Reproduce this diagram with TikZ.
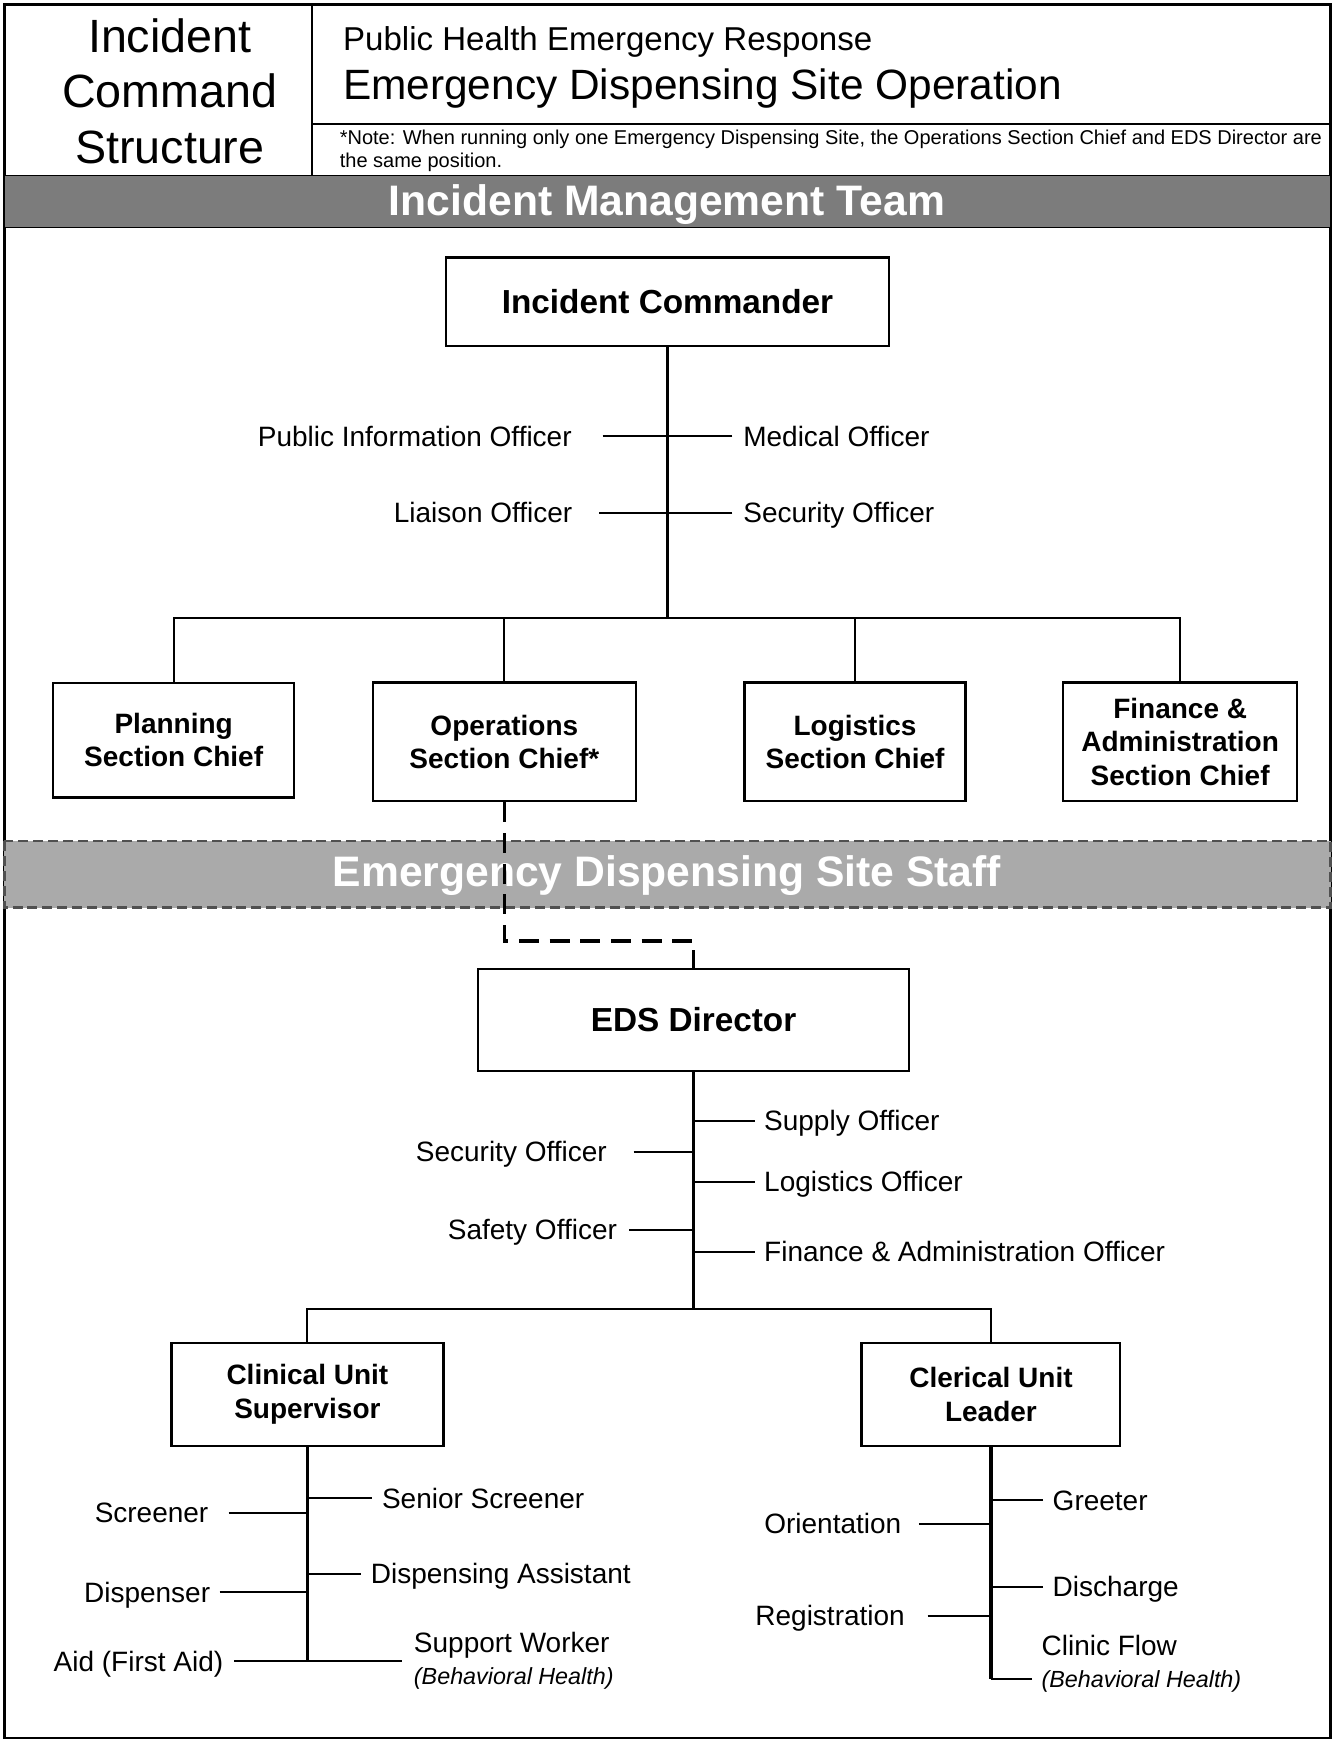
\documentclass[tikz,border=0pt]{standalone}
\usepackage{fontspec}
\setmainfont{Liberation Sans}

\definecolor{bandgray}{RGB}{124,124,124}
\definecolor{staffgray}{RGB}{170,170,170}
\definecolor{edgegray}{RGB}{80,80,80}

\tikzset{
  box/.style 2 args={draw, line width=1.8pt, align=center, inner sep=0pt,
    font=\fontsize{21}{25}\selectfont\bfseries, minimum width=#1, minimum height=#2},
  lbl/.style={font=\fontsize{21}{24}\selectfont, inner ysep=0pt, align=left,
    text height=15pt, text depth=0pt},
  lblL/.style={lbl, anchor=east, inner xsep=#1},
  lblR/.style={lbl, anchor=west, inner xsep=#1},
  sub/.style={font=\fontsize{17.5}{21}\selectfont\itshape},
  spine/.style={line width=2.5pt},
  twig/.style={line width=1.5pt},
  dashlink/.style={line width=2.6pt, dash pattern=on 15pt off 8pt},
  bandtext/.style={text=white, font=\fontsize{32}{36}\selectfont\bfseries},
  bandedge/.style={draw=edgegray, line width=2pt, dash pattern=on 7.5pt off 3.7pt},
}

\begin{document}
\begin{tikzpicture}[x=0.8325pt, y=-0.8325pt]
\useasboundingbox (0,0) rectangle (1201,1568);

% frame and header
\draw[line width=1.8pt] (4,4) rectangle (1199,1566);
\draw[line width=1.6pt] (281,4) -- (281,158);
\draw[line width=1.6pt] (281,112) -- (1199,112);
\node[font=\fontsize{35}{41.6}\selectfont, align=center, inner sep=0pt] (ics) at (153,82)
  {Incident\\Command\\Structure};
\node[anchor=west, inner sep=0pt, font=\fontsize{24.8}{28}\selectfont] (title1) at (309,38)
  {Public Health Emergency Response};
\node[anchor=west, inner sep=0pt, font=\fontsize{31.8}{36}\selectfont] (title2) at (309,80)
  {Emergency Dispensing Site Operation};
\node[anchor=west, inner sep=0pt, align=left, font=\fontsize{15}{16.7}\selectfont] (note) at (306,136)
  {*Note: When running only one Emergency Dispensing Site, the Operations Section Chief and EDS Director are\\the same position.};

% bands
\draw[fill=bandgray, line width=1pt] (4,158) rectangle (1199,205);
\node[bandtext] (imt) at (601,184) {Incident Management Team};
\draw[bandedge, fill=staffgray] (4,758) rectangle (1199,818);
\node[bandtext] (edsstaff) at (601,789) {Emergency Dispensing Site Staff};

% incident management team
\node[box={332.2pt}{66.6pt}, font=\fontsize{25}{30}\selectfont\bfseries] (ic) at (601.5,272) {Incident Commander};
\node[box={180.7pt}{86pt}] (plan) at (156.5,667) {Planning\\Section Chief};
\node[box={197.3pt}{89.1pt}] (ops) at (454.5,668.5) {Operations\\Section Chief*};
\node[box={165.7pt}{89.1pt}] (log) at (770.5,668.5) {Logistics\\Section Chief};
\node[box={175.7pt}{89.1pt}] (fin) at (1063.5,668.5) {Finance \&\\Administration\\Section Chief};

\node[lblL=23pt] (pio) at (543,393) {Public Information Officer};
\node[lblL=20pt] (liaison) at (540,462) {Liaison Officer};
\node[lblR=8pt] (med) at (660,393) {Medical Officer};
\node[lblR=8pt] (secoff) at (660,462) {Security Officer};

\coordinate (icbar) at (601.5,557);
\draw[spine] (ic.south) -- (icbar);
\draw[twig] (plan.north) |- (icbar) -| (fin.north);
\draw[twig] (ops.north) -- (ops.north |- icbar);
\draw[twig] (log.north) -- (log.north |- icbar);
\draw[twig] (pio.east) -- (pio.east -| ic);
\draw[twig] (liaison.east) -- (liaison.east -| ic);
\draw[twig] (med.west) -- (med.west -| ic);
\draw[twig] (secoff.west) -- (secoff.west -| ic);

% emergency dispensing site staff
\node[box={323pt}{76.6pt}, font=\fontsize{25}{30}\selectfont\bfseries] (eds) at (625,919) {EDS Director};
\node[box={204pt}{77.4pt}] (clin) at (277,1256.5) {Clinical Unit\\Supervisor};
\node[box={194pt}{77.4pt}] (cler) at (893,1256.5) {Clerical Unit\\Leader};

\coordinate (opsturn) at (625,848);
\draw[dashlink] (ops.south) |- (opsturn) -- (eds.north);

\node[lblR=7pt] (supply) at (680,1010) {Supply Officer};
\node[lblR=7pt] (logoff) at (680,1065) {Logistics Officer};
\node[lblR=7pt] (finoff) at (680,1128) {Finance \& Administration Officer};
\node[lblL=20pt] (edssec) at (571,1038) {Security Officer};
\node[lblL=9pt] (safety) at (567,1108) {Safety Officer};

\coordinate (edsbar) at (625,1180);
\draw[spine] (eds.south) -- (edsbar);
\draw[twig] (clin.north) |- (edsbar) -| (cler.north);
\draw[twig] (supply.west) -- (supply.west -| eds);
\draw[twig] (logoff.west) -- (logoff.west -| eds);
\draw[twig] (finoff.west) -- (finoff.west -| eds);
\draw[twig] (edssec.east) -- (edssec.east -| eds);
\draw[twig] (safety.east) -- (safety.east -| eds);

% clinical unit
\node[lblR=7.5pt] (senior) at (335,1350) {Senior Screener};
\node[lblR=7.5pt] (dispasst) at (325,1418) {Dispensing Assistant};
\node[lblR=9pt, text height=, text depth=] (support) at (362,1497) {Support Worker\\{\fontsize{17.5}{24}\selectfont\itshape (Behavioral Health)}};
\node[lblL=15pt] (screener) at (206,1363) {Screener};
\node[lblL=7pt] (dispenser) at (198,1435) {Dispenser};
\node[lblL=8pt] (aid) at (211,1497) {Aid (First Aid)};

\coordinate (clinend) at (277,1497);
\draw[spine] (clin.south) -- (clinend);
\draw[twig] (senior.west) -- (senior.west -| clin);
\draw[twig] (dispasst.west) -- (dispasst.west -| clin);
\draw[twig] (support.west) -- (support.west -| clin);
\draw[twig] (screener.east) -- (screener.east -| clin);
\draw[twig] (dispenser.east) -- (dispenser.east -| clin);
\draw[twig] (aid.east) -- (aid.east -| clin);

% clerical unit
\node[lblR=7pt] (greeter) at (940,1352) {Greeter};
\node[lblR=7pt] (discharge) at (940,1430) {Discharge};
\node[lblR=7pt] (cflow) at (930,1483) {Clinic Flow};
\node[lblR=7pt, sub, text height=12.5pt] (cflowsub) at (930,1513) {(Behavioral Health)};
\node[lblL=13pt] (orient) at (828,1373) {Orientation};
\node[lblL=17pt] (regist) at (836,1456) {Registration};

\coordinate (clerend) at (893,1513);
\draw[spine] (cler.south) -- (clerend);
\draw[twig] (greeter.west) -- (greeter.west -| cler);
\draw[twig] (discharge.west) -- (discharge.west -| cler);
\draw[twig] (cflowsub.west) -- (cflowsub.west -| cler);
\draw[twig] (orient.east) -- (orient.east -| cler);
\draw[twig] (regist.east) -- (regist.east -| cler);

\end{tikzpicture}
\end{document}
